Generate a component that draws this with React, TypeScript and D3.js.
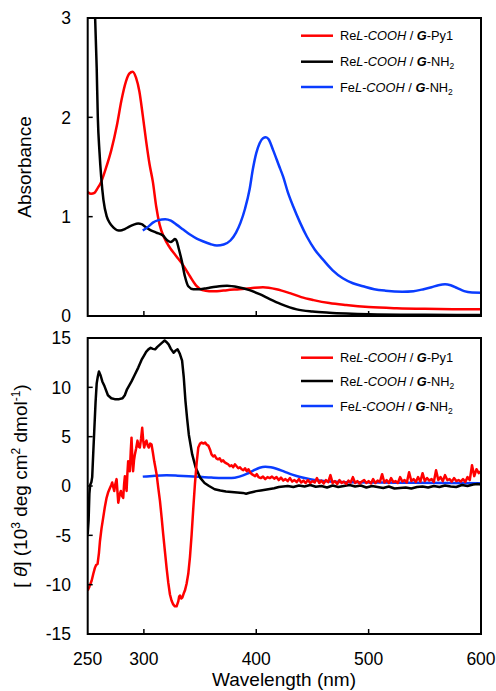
import React from "react";
import * as d3 from "d3";

// ---- data (wavelength nm, value) ----
const absPy1: [number, number][] = [
  [250, 1.25], [253, 1.23], [256, 1.24], [259, 1.29], [262, 1.35], [266, 1.48], [271, 1.67], [276, 1.92],
  [280, 2.17], [284, 2.36], [287, 2.44], [290, 2.46], [293, 2.4], [296, 2.26], [299, 2.02], [302, 1.76],
  [305, 1.53], [308, 1.35], [311, 1.1], [314, 0.92], [318, 0.79], [323, 0.69], [329, 0.6], [335, 0.51],
  [341, 0.4], [347, 0.3], [352, 0.26], [358, 0.25], [365, 0.25], [374, 0.26], [385, 0.27], [395, 0.28],
  [406, 0.29], [418, 0.27], [430, 0.23], [440, 0.19], [451, 0.16], [465, 0.13], [480, 0.11], [500, 0.09],
  [525, 0.078], [550, 0.072], [575, 0.069], [600, 0.068],
];

const absNH2: [number, number][] = [
  [250, 5.5], [253, 4.3], [256, 3.2], [258, 2.5], [259, 2.0], [260.5, 1.65], [262, 1.4], [264, 1.17],
  [267, 1.0], [270, 0.93], [273, 0.89], [276, 0.865], [279, 0.86], [283, 0.875], [287, 0.9], [291, 0.92],
  [295, 0.93], [298, 0.925], [301, 0.9], [305, 0.87], [311, 0.84], [317, 0.81], [321, 0.76], [324, 0.745],
  [326, 0.76], [327.6, 0.775], [329, 0.76], [331, 0.68], [333.6, 0.56], [336.5, 0.4], [339.5, 0.3],
  [344, 0.27], [350, 0.27], [356, 0.28], [364, 0.295], [374, 0.305], [384, 0.29], [394, 0.26], [403, 0.22],
  [412, 0.17], [422, 0.12], [436, 0.067], [450, 0.045], [465, 0.033], [480, 0.025], [500, 0.018],
  [550, 0.012], [600, 0.01],
];

const absFe: [number, number][] = [
  [299, 0.86], [304, 0.9], [308, 0.94], [313, 0.965], [319, 0.975], [324, 0.96], [329, 0.92], [335, 0.87],
  [341, 0.82], [347, 0.78], [353, 0.75], [359, 0.725], [365, 0.71], [371, 0.72], [377, 0.76], [382, 0.84],
  [386, 0.94], [390, 1.08], [394, 1.27], [397, 1.48], [400, 1.64], [403, 1.74], [406, 1.79], [408.5, 1.8],
  [411, 1.78], [415, 1.67], [420, 1.52], [424, 1.4], [428, 1.25], [433, 1.1], [439, 0.94], [445, 0.8],
  [452, 0.67], [460, 0.56], [468, 0.46], [477, 0.38], [486, 0.33], [495, 0.3], [505, 0.27], [515, 0.255],
  [530, 0.245], [540, 0.25], [549, 0.27], [556, 0.29], [562, 0.31], [568, 0.32], [573, 0.31], [579, 0.28],
  [585, 0.25], [592, 0.237], [600, 0.235],
];

const cdPy1: [number, number][] = [
  [250, -10.6], [251.5, -10.2], [253.5, -9.6], [255, -8.9], [256.4, -8.3], [257.5, -8.0], [258.8, -7.9],
  [260, -6.8], [260.9, -5.6], [262.3, -4.3], [263.8, -3.2], [265.3, -2.1], [266.8, -1.2], [268.3, -0.6],
  [269.8, -0.2], [271, 0.1], [271.8, 0.35], [272.7, -0.1], [273.6, -0.5], [274.6, 0.2], [275.7, 0.7],
  [276.5, -0.6], [277.2, -1.7], [278.4, -0.9], [279.5, -0.5], [280.5, -1.0], [281.6, -1.2], [282.4, 0.2],
  [283.1, 1.0], [283.9, 0.1], [284.6, -0.5], [285.3, 1.2], [286, 2.5], [286.8, 2.0], [287.5, 1.5],
  [288.3, 3.5], [289, 4.9], [289.7, 2.8], [290.4, 1.5], [291.2, 2.6], [292, 3.2], [293.1, 3.8], [294.3, 4.6],
  [295.3, 4.0], [296.4, 3.9], [297.5, 4.8], [298.5, 5.9], [299.4, 4.6], [300.3, 3.9], [301.3, 4.4],
  [302.3, 4.6], [303.4, 4.1], [304.4, 3.9], [305.6, 4.3], [306.8, 4.2], [308, 3.4], [309.2, 2.5],
  [310.2, 1.9], [311.3, 1.2], [312.8, -0.2], [314.3, -1.5], [315.8, -3.2], [317.2, -4.9], [318.7, -6.6],
  [320.2, -8.3], [321.7, -9.8], [323.2, -11.0], [324.6, -11.6], [326.1, -12.0], [327.6, -12.2],
  [329.1, -12.2], [330.6, -11.7], [331.4, -11.2], [332.1, -11.1], [333.2, -11.4], [334.2, -11.3],
  [335.4, -10.9], [336.5, -10.6], [338, -9.9], [339.5, -8.9], [341, -7.2], [342.5, -4.9], [344, -2.2],
  [345.4, 0.17], [347, 2.4], [348.4, 3.9], [350, 4.3], [351.4, 4.4], [353, 4.3], [354.5, 4.4], [355.8, 4.2],
  [357.3, 4.1], [358.8, 3.7], [360.2, 3.2], [361.7, 3.0], [363, 3.1], [364.5, 2.8], [366, 2.7], [367.5, 2.8],
  [369, 2.5], [370.5, 2.6], [372, 2.4], [373.5, 2.3], [375, 2.2], [376.5, 2.0], [378, 2.1], [379.5, 1.9],
  [381, 2.2], [382.5, 2.0], [384, 1.8], [385.5, 1.9], [387, 1.7], [388.5, 1.6], [390, 1.8], [391.5, 1.5],
  [393, 1.7], [394.5, 1.4], [396, 1.2], [397.5, 1.1], [399, 1.0], [400.5, 1.2], [402, 0.9], [404, 0.8],
  [406, 0.95], [408, 0.7], [410, 0.9], [412, 0.8], [414, 0.95], [416, 0.75], [418, 0.9], [420, 0.6],
  [422, 0.85], [424, 0.55], [426, 0.7], [428, 0.5], [430, 0.8], [432, 0.45], [434, 0.6], [436, 0.4],
  [438, 0.7], [440, 0.35], [442, 0.55], [444, 0.3], [446, 0.6], [448, 0.3], [450, 0.5], [452, 0.35],
  [454, 0.8], [456, 0.3], [458, 0.55], [460, 0.25], [462, 0.6], [464, 0.4], [466, 1.1], [468, 0.3],
  [470, 0.5], [472, 0.2], [474, 0.6], [476, 0.3], [478, 0.45], [480, 0.2], [482, 0.55], [484, 0.35],
  [486, 0.9], [488, 0.3], [490, 0.5], [492, 0.25], [494, 0.45], [496, 0.6], [498, 0.3], [500, 0.5],
  [502, 0.25], [504, 0.7], [506, 0.3], [508, 0.55], [510, 0.4], [512, 1.2], [514, 0.35], [516, 0.6],
  [518, 0.3], [520, 0.8], [522, 0.4], [524, 0.5], [526, 0.3], [528, 0.9], [530, 0.45], [532, 0.6],
  [534, 0.35], [536, 1.4], [538, 0.5], [540, 0.7], [542, 0.4], [544, 0.9], [546, 0.45], [548, 1.3],
  [550, 0.5], [552, 0.8], [554, 0.55], [556, 0.7], [558, 0.4], [560, 1.6], [562, 0.6], [564, 0.9],
  [566, 0.5], [568, 1.1], [570, 0.6], [572, 0.7], [574, 0.45], [576, 0.8], [578, 0.5], [580, 0.6],
  [582, 0.45], [584, 0.7], [586, 0.4], [588, 0.9], [590, 0.6], [592, 2.1], [594, 1.0], [596, 1.7],
  [598, 1.3], [600, 1.5],
];

const cdNH2: [number, number][] = [
  [250, -4.9], [250.8, -3.5], [251.5, -0.8], [252.2, 0.1], [253.3, 0.4], [254, 0.9], [255, 3.5], [256, 6.0],
  [257, 8.5], [258, 10.4], [259, 11.1], [260, 11.6], [261.5, 11.2], [263, 10.6], [265, 10.1], [268, 9.2],
  [271, 8.9], [274, 8.8], [278, 8.8], [281, 8.9], [283, 9.2], [285, 9.8], [287, 10.2], [289, 10.6],
  [292, 11.3], [295, 12.0], [298, 12.8], [300, 13.2], [302, 13.6], [304, 13.85], [306, 14.0], [308, 13.9],
  [310, 13.85], [312, 14.1], [314.5, 14.35], [316, 14.5], [318.5, 14.75], [320, 14.6], [322, 14.35],
  [324, 13.9], [326.5, 13.5], [328, 13.7], [330, 13.85], [332, 13.4], [334, 12.7], [335.5, 11.0],
  [337, 8.6], [338.5, 6.8], [340, 5.2], [343, 3.2], [346, 1.9], [350, 0.85], [354, 0.3], [358, 0.0],
  [363, -0.33], [368, -0.45], [373, -0.55], [378, -0.6], [383, -0.65], [388, -0.7], [391, -0.78],
  [394, -0.68], [397, -0.6], [400, -0.52], [404, -0.45], [408, -0.38], [412, -0.3], [416, -0.22],
  [420, -0.1], [424, -0.05], [428, 0.0], [433, -0.1], [438, 0.05], [443, -0.05], [448, 0.1], [453, -0.08],
  [458, 0.0], [463, -0.15], [468, 0.05], [473, -0.1], [478, 0.0], [483, 0.1], [488, -0.05], [493, 0.05],
  [498, -0.15], [503, 0.0], [508, -0.1], [513, -0.2], [518, -0.05], [523, -0.25], [528, -0.2], [533, -0.15],
  [538, -0.25], [543, -0.1], [548, -0.05], [553, -0.15], [558, 0.0], [563, -0.1], [568, 0.05], [573, -0.05],
  [578, -0.1], [583, 0.1], [588, 0.0], [593, 0.15], [597, 0.2], [600, 0.15],
];

const cdFe: [number, number][] = [
  [299, 0.95], [310, 1.05], [320, 1.08], [330, 1.05], [340, 1.0], [350, 0.93], [360, 0.85], [370, 0.8],
  [378, 0.8], [385, 0.95], [392, 1.25], [398, 1.6], [403, 1.85], [408, 1.95], [413, 1.9], [418, 1.75],
  [425, 1.45], [432, 1.15], [440, 0.88], [448, 0.68], [456, 0.55], [465, 0.46], [475, 0.4], [490, 0.37],
  [510, 0.35], [540, 0.33], [570, 0.3], [600, 0.28],
];

const xTicks = [300, 400, 500];
const xTickLabels = [250, 300, 400, 500, 600];
const absTicks = [0, 1, 2, 3];
const cdTicks = [-15, -10, -5, 0, 5, 10, 15];

const RED = "#ff0000";
const BLACK = "#000000";
const BLUE = "#0a3cff";
const FONT = "'Liberation Sans', Arial, sans-serif";

type Series = { data: [number, number][]; color: string; smooth: boolean };

const Legend = ({ x, ys }: { x: number; ys: number[] }) => {
  const items = [
    { color: RED, tail: "Py1" },
    { color: BLACK, tail: "NH" },
    { color: BLUE, tail: "NH", fe: true },
  ];
  return (
    <g fontFamily={FONT} fontSize={12.8}>
      {items.map((it, i) => (
        <g key={i}>
          <line x1={x} x2={x + 32} y1={ys[i]} y2={ys[i]} stroke={it.color} strokeWidth={2.5} />
          <text x={x + 39} y={ys[i] + 4.5}>
            <tspan>{it.fe ? "Fe" : "Re"}</tspan>
            <tspan fontStyle="italic">L-COOH</tspan>
            <tspan> / </tspan>
            <tspan fontStyle="italic" fontWeight="bold">G</tspan>
            <tspan>-{it.tail}</tspan>
            {it.tail === "NH" && (
              <tspan fontSize={8.5} dy={3}>2</tspan>
            )}
          </text>
        </g>
      ))}
    </g>
  );
};

export default function App() {
  const W = 496;
  const H = 691;
  const left = 87.7;
  const right = 481;

  const x = d3.scaleLinear().domain([250, 600]).range([left, right]);
  const yAbs = d3.scaleLinear().domain([0, 3]).range([316, 18]);
  const yCd = d3.scaleLinear().domain([-15, 15]).range([634, 338]);

  const mk = (y: d3.ScaleLinear<number, number>, smooth: boolean) =>
    d3
      .line<[number, number]>()
      .x((d) => x(d[0]))
      .y((d) => y(d[1]))
      .curve(smooth ? d3.curveMonotoneX : d3.curveLinear);

  const absSeries: Series[] = [
    { data: absPy1, color: RED, smooth: true },
    { data: absNH2, color: BLACK, smooth: true },
    { data: absFe, color: BLUE, smooth: true },
  ];
  const cdSeries: Series[] = [
    { data: cdFe, color: BLUE, smooth: true },
    { data: cdNH2, color: BLACK, smooth: false },
    { data: cdPy1, color: RED, smooth: false },
  ];

  const tickLen = 5;

  return (
    <svg
      width={W}
      height={H}
      style={{ position: "absolute", left: 0, top: 0, background: "#fff" }}
      fontFamily={FONT}
    >
      <defs>
        <clipPath id="clipAbs">
          <rect x={left} y={yAbs(3)} width={right - left} height={yAbs(0) - yAbs(3)} />
        </clipPath>
        <clipPath id="clipCd">
          <rect x={left} y={yCd(15)} width={right - left} height={yCd(-15) - yCd(15)} />
        </clipPath>
      </defs>

      {/* top panel */}
      <g clipPath="url(#clipAbs)">
        {absSeries.map((s, i) => (
          <path key={i} d={mk(yAbs, s.smooth)(s.data) || ""} fill="none" stroke={s.color} strokeWidth={2.5} strokeLinejoin="round" />
        ))}
      </g>
      <rect x={left} y={yAbs(3)} width={right - left} height={yAbs(0) - yAbs(3)} fill="none" stroke="#000" strokeWidth={2} />
      {xTicks.map((t) => (
        <line key={t} x1={x(t)} x2={x(t)} y1={yAbs(0)} y2={yAbs(0) - tickLen} stroke="#000" strokeWidth={1.5} />
      ))}
      {absTicks.map((t) => (
        <g key={t}>
          {t > 0 && t < 3 && (
            <line x1={left} x2={left + tickLen} y1={yAbs(t)} y2={yAbs(t)} stroke="#000" strokeWidth={1.5} />
          )}
          <text x={71} y={yAbs(t)} dy="0.36em" textAnchor="end" fontSize={17.5}>
            {t}
          </text>
        </g>
      ))}
      <text
        transform={`translate(31,${(yAbs(0) + yAbs(3)) / 2}) rotate(-90)`}
        textAnchor="middle"
        fontSize={19}
      >
        Absorbance
      </text>
      <Legend x={301} ys={[35.7, 61.7, 87]} />

      {/* bottom panel */}
      <g clipPath="url(#clipCd)">
        {cdSeries.map((s, i) => (
          <path key={i} d={mk(yCd, s.smooth)(s.data) || ""} fill="none" stroke={s.color} strokeWidth={2.5} strokeLinejoin="round" />
        ))}
      </g>
      <rect x={left} y={yCd(15)} width={right - left} height={yCd(-15) - yCd(15)} fill="none" stroke="#000" strokeWidth={2} />
      {xTicks.map((t) => (
        <line key={t} x1={x(t)} x2={x(t)} y1={yCd(-15)} y2={yCd(-15) - tickLen} stroke="#000" strokeWidth={1.5} />
      ))}
      {cdTicks.map((t) => (
        <g key={t}>
          {t > -15 && t < 15 && (
            <line x1={left} x2={left + tickLen} y1={yCd(t)} y2={yCd(t)} stroke="#000" strokeWidth={1.5} />
          )}
          <text x={71} y={yCd(t)} dy="0.36em" textAnchor="end" fontSize={17.5}>
            {t}
          </text>
        </g>
      ))}
      {xTickLabels.map((t) => (
        <text key={t} x={x(t)} y={665} textAnchor="middle" fontSize={17.5}>
          {t}
        </text>
      ))}
      <text x={284} y={686} textAnchor="middle" fontSize={19}>
        Wavelength (nm)
      </text>
      <text
        transform={`translate(27,${(yCd(15) + yCd(-15)) / 2}) rotate(-90)`}
        textAnchor="middle"
        fontSize={19}
      >
        <tspan>[ </tspan>
        <tspan fontStyle="italic">θ</tspan>
        <tspan>] (10</tspan>
        <tspan fontSize={12} dy={-7}>3</tspan>
        <tspan dy={7}> deg cm</tspan>
        <tspan fontSize={12} dy={-7}>2</tspan>
        <tspan dy={7}> dmol</tspan>
        <tspan fontSize={12} dy={-7}>-1</tspan>
        <tspan dy={7}>)</tspan>
      </text>
      <Legend x={301} ys={[357.7, 381, 406]} />
    </svg>
  );
}
